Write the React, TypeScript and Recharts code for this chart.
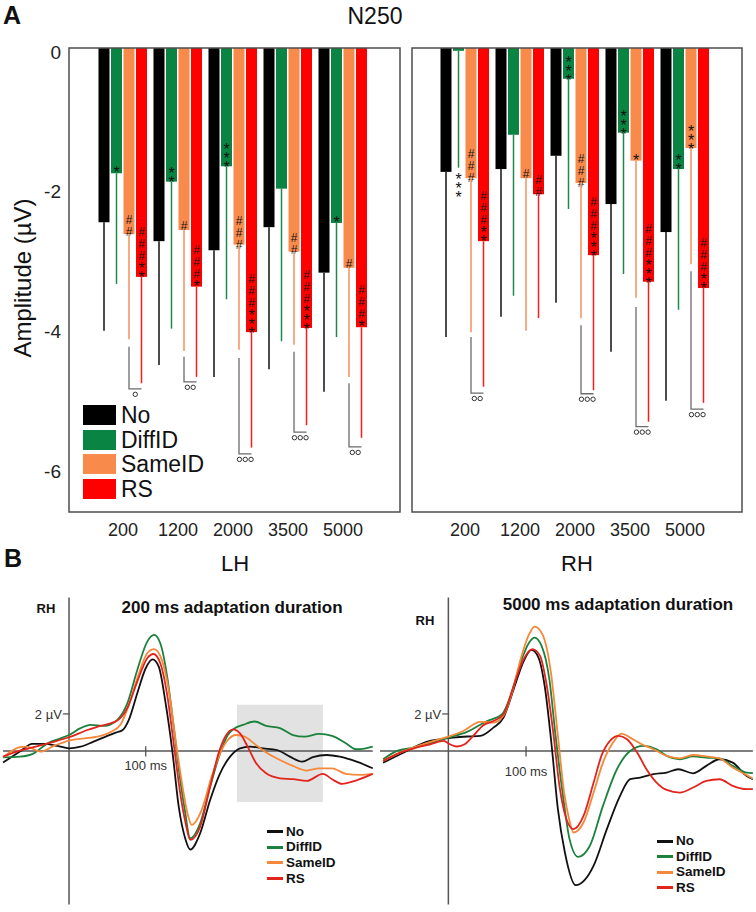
import React from "react";
import {
  BarChart,
  Bar,
  XAxis,
  YAxis,
  ErrorBar,
  Legend,
  LineChart,
  Line,
  ReferenceLine,
  ReferenceArea,
} from "recharts";

const FONT = '"Liberation Sans", Arial, Helvetica, sans-serif';

const durations = ["200", "1200", "2000", "3500", "5000"];
const conditions = ["No", "DiffID", "SameID", "RS"];

const barColors: Record<string, string> = {
  No: "#000000",
  DiffID: "#0a8443",
  SameID: "#f88a4c",
  RS: "#ff0000",
};
const errColors: Record<string, string> = {
  No: "#111111",
  DiffID: "#1b8a4b",
  SameID: "#f4915c",
  RS: "#ff1a1a",
};
const lineColors: Record<string, string> = {
  No: "#111111",
  DiffID: "#1a823d",
  SameID: "#f5883a",
  RS: "#e3241d",
};

// N250 mean amplitude (µV), left hemisphere
const lhNo = [-2.49, -2.76, -2.89, -2.56, -3.21];
const lhDiff = [-1.79, -1.91, -1.69, -2.01, -2.5];
const lhSame = [-2.66, -2.6, -2.81, -2.91, -3.14];
const lhRs = [-3.27, -3.41, -4.06, -4.0, -3.99];
// one-sided error (drawn downwards)
const lhNoErr = [1.55, 1.77, 1.81, 2.03, 1.7];
const lhDiffErr = [1.58, 2.1, 1.9, 2.18, 1.63];
const lhSameErr = [1.5, 1.73, 1.5, 1.33, 1.56];
const lhRsErr = [1.52, 1.29, 1.65, 1.39, 1.58];

// right hemisphere
const rhNo = [-1.77, -1.73, -1.54, -2.23, -2.63];
const rhDiff = [-0.04, -1.24, -0.44, -1.21, -1.73];
const rhSame = [-1.86, -1.86, -1.93, -1.61, -1.43];
const rhRs = [-2.76, -2.09, -2.96, -3.34, -3.43];
const rhNoErr = [2.36, 2.11, 2.1, 2.11, 2.41];
const rhDiffErr = [1.67, 2.3, 1.86, 2.02, 2.01];
const rhSameErr = [2.2, 2.18, 1.93, 1.96, 1.66];
const rhRsErr = [2.08, 1.77, 1.93, 2.0, 1.64];

// significance marks inside the bars (a space separates groups)
const lhDiffMarks = ["*", "**", "***", "", "*"];
const lhSameMarks = ["##", "#", "###", "##", "#"];
const lhRsMarks = ["### **", "### *", "### ***", "### ***", "### *"];
const rhDiffMarks = ["***", "", "***", "***", "**"];
const rhSameMarks = ["###", "#", "###", "*", "***"];
const rhRsMarks = ["### **", "##", "### ***", "### ***", "### **"];

// SameID vs RS brackets
const lhBracketTop = [-4.27, -4.41, -4.43, -4.34, -4.79];
const lhBracketEnd = [-4.87, -4.77, -5.8, -5.49, -5.7];
const lhBracketSig = [1, 2, 3, 3, 2];
const rhBracketTop = [-4.13, null, -3.96, -3.7, -3.19];
const rhBracketEnd = [-4.93, null, -4.94, -5.41, -5.16];
const rhBracketSig = [2, 0, 3, 3, 3];

// ERP waveforms, [ms, µV]
const erp200No = [
  [-86, -0.63], [-64, -0.03], [-48, 0.38], [-33, 0.38], [-15, 0.27], [0, 0.14],
  [15, 0.23], [32, 0.5], [50, 0.81], [61, 0.99], [70, 1.13], [78, 1.68], [89, 3.12],
  [100, 4.47], [109, 4.95], [117, 4.56], [126, 2.57], [135, -0.1], [143, -3.0],
  [152, -4.8], [158, -5.33], [171, -4.45], [184, -2.65], [197, -1.21], [210, -0.31],
  [223, 0.14], [236, 0.23], [253, 0.14], [271, 0.05], [288, -0.31], [304, -0.58],
  [318, -0.34], [336, -0.22], [353, -0.31], [375, -0.58], [396, -0.94],
];
const erp200Diff = [
  [-86, -0.35], [-64, -0.31], [-46, -0.13], [-28, 0.41], [-11, 0.68], [0, 0.86],
  [15, 1.23], [28, 1.41], [46, 1.35], [63, 1.68], [76, 2.57], [89, 4.38], [102, 5.91],
  [111, 6.27], [119, 5.82], [128, 4.02], [137, 1.14], [145, -1.57], [151, -3.2],
  [158, -4.72], [171, -3.91], [184, -1.93], [197, -0.13], [207, 0.86], [216, 1.23],
  [227, 1.41], [242, 1.59], [257, 1.35], [275, 1.23], [292, 0.86], [307, 0.77],
  [326, 0.92], [343, 0.81], [361, 0.41], [374, 0.09], [387, 0.14], [396, 0.23],
];
const erp200Same = [
  [-86, -0.35], [-64, 0.2], [-55, 0.23], [-37, -0.04], [-20, 0.27], [0, 0.56],
  [20, 0.68], [37, 0.77], [55, 1.04], [67, 1.41], [78, 2.49], [89, 3.93], [102, 5.28],
  [111, 5.5], [121, 4.92], [130, 3.3], [139, 0.59], [148, -1.93], [154, -3.3],
  [160, -4.0], [173, -3.19], [186, -1.39], [197, -0.13], [207, 0.59], [218, 0.86],
  [229, 0.77], [242, 0.38], [257, -0.09], [275, -0.49], [292, -0.81], [310, -1.06],
  [326, -0.94], [343, -0.94], [361, -1.24], [379, -1.3], [396, -1.24],
];
const erp200Rs = [
  [-86, -0.31], [-64, 0.02], [-46, 0.2], [-24, 0.45], [0, 0.74], [24, 1.13],
  [41, 1.35], [63, 1.64], [76, 2.31], [89, 3.75], [102, 5.01], [110, 5.24],
  [119, 4.74], [128, 3.03], [137, 0.23], [145, -2.29], [152, -3.9], [158, -4.81],
  [171, -4.09], [184, -1.93], [195, -0.13], [205, 0.86], [214, 1.17], [223, 0.95],
  [234, 0.14], [244, -0.67], [257, -1.21], [275, -1.48], [292, -1.53], [310, -1.62],
  [331, -1.24], [343, -1.53], [356, -1.78], [374, -1.6], [396, -1.24],
];

const erp5000No = [
  [-84, -0.63], [-62, -0.18], [-45, 0.18], [-28, 0.49], [-11, 0.63], [6, 0.72],
  [24, 0.78], [41, 0.81], [58, 1.26], [71, 1.8], [84, 3.33], [97, 4.86], [107, 5.46],
  [116, 5.05], [124, 3.51], [133, 0.27], [141, -3.15], [150, -5.49], [164, -7.26],
  [175, -7.0], [187, -6.2], [204, -4.23], [221, -2.43], [234, -1.53], [247, -1.44],
  [264, -1.26], [281, -1.17], [296, -0.99], [315, -1.21], [332, -0.81], [349, -0.45],
  [366, -0.63], [384, -1.35], [392, -1.53],
];
const erp5000Diff = [
  [-84, -0.45], [-66, 0], [-45, 0.18], [-23, 0.42], [0, 0.72], [24, 1.03], [50, 1.62],
  [69, 1.98], [80, 2.97], [93, 4.78], [104, 5.86], [111, 6.13], [120, 5.68],
  [130, 3.88], [138, 0.81], [147, -2.25], [156, -4.77], [167, -5.73], [182, -5.14],
  [199, -2.97], [217, -0.99], [234, 0], [251, 0.27], [268, 0.09], [281, -0.27],
  [298, -0.45], [315, -0.3], [332, -0.36], [349, -0.4], [366, -0.81], [384, -1.17],
  [392, -1.2],
];
const erp5000Same = [
  [-84, -0.54], [-62, -0.09], [-45, 0.18], [-23, 0.49], [0, 0.77], [19, 1.08],
  [41, 1.57], [58, 1.53], [71, 1.91], [82, 3.16], [93, 4.96], [104, 6.31], [111, 6.72],
  [121, 6.31], [132, 4.24], [141, 0.81], [149, -2.25], [155, -3.6], [161, -4.41],
  [174, -3.87], [187, -2.25], [199, -0.63], [212, 0.45], [223, 0.94], [234, 0.72],
  [247, 0.4], [264, 0.09], [281, -0.27], [298, -0.4], [315, -0.22], [332, -0.3],
  [349, -0.4], [366, -0.9], [384, -1.31], [392, -1.5],
];
const erp5000Rs = [
  [-84, -0.54], [-62, -0.09], [-45, 0.13], [-23, 0.36], [-6, 0.54], [2, 0.36],
  [11, 0.24], [21, 0.36], [32, 0.81], [45, 1.39], [58, 1.62], [71, 1.98], [84, 3.51],
  [97, 4.96], [108, 5.5], [118, 5.14], [126, 3.7], [135, 1.0], [143, -1.89],
  [152, -3.69], [161, -4.23], [174, -3.51], [187, -1.71], [197, -0.27], [208, 0.54],
  [219, 0.81], [230, 0.63], [243, -0.09], [255, -0.99], [268, -1.71], [281, -2.11],
  [298, -2.25], [315, -1.98], [332, -1.62], [349, -1.53], [366, -1.89], [384, -2.07],
  [392, -2.07],
];

const Y_MIN = -6.63;
const Y_MAX = 0;
const BAR_SIZE = 11;
const BAR_GAP = 1.5;

function buildRows(vals: number[][], errs: number[][]) {
  return durations.map((d, i) => {
    const row: any = { dur: d };
    conditions.forEach((c, k) => {
      row[c] = vals[k][i];
      row[c + "Err"] = [errs[k][i], 0];
    });
    return row;
  });
}

const lhRows = buildRows([lhNo, lhDiff, lhSame, lhRs], [lhNoErr, lhDiffErr, lhSameErr, lhRsErr]);
const rhRows = buildRows([rhNo, rhDiff, rhSame, rhRs], [rhNoErr, rhDiffErr, rhSameErr, rhRsErr]);

type Bracket = { top: (number | null)[]; end: (number | null)[]; sig: number[] };

// vertical pitch and font size of one stacked mark
const groupPitch = (g: string) => (g[0] === "#" ? 10 : 8);
const groupFont = (g: string) => (g[0] === "#" ? 12 : 16);
const GROUP_GAP = 5;

function barShape(key: string, marks: string[] | null, errs: number[], bracket?: Bracket) {
  return (props: any) => {
    const { x, y, width, height, fill, payload } = props;
    const index = props.index ?? durations.indexOf(payload.dur);
    const top = Math.min(y, y + height);
    const h = Math.abs(height);
    const bg = props.background && props.background.height ? props.background : { y: 48, height: 464 };
    const yOf = (v: number) => bg.y + ((Y_MAX - v) / (Y_MAX - Y_MIN)) * bg.height;
    const cx = x + width / 2;
    const value = payload[key];
    const items: React.ReactNode[] = [];

    const m = marks ? marks[index] || "" : "";
    if (m) {
      const groups = m.split(" ").filter(Boolean);
      const total =
        groups.reduce((s, g) => s + g.length * groupPitch(g), 0) + (groups.length - 1) * GROUP_GAP;
      let cur = top + h - 1;
      if (total > h - 2) cur = yOf(value - errs[index]) + 3 + total;
      for (let i = groups.length - 1; i >= 0; i--) {
        const g = groups[i];
        const p = groupPitch(g);
        const f = groupFont(g);
        const gTop = cur - g.length * p;
        items.push(
          <text
            key={"g" + i}
            x={cx}
            y={gTop}
            fontSize={f}
            fontFamily={FONT}
            fill="#111"
            letterSpacing={p - f}
            style={{ writingMode: "vertical-rl", textOrientation: "upright" } as any}
          >
            {g}
          </text>
        );
        cur = gTop - GROUP_GAP;
      }
    }

    if (bracket && bracket.top[index] != null && bracket.end[index] != null) {
      const y1 = yOf(bracket.top[index] as number);
      const y2 = yOf(bracket.end[index] as number);
      const x2 = cx + width + BAR_GAP;
      items.push(
        <path
          key="br"
          d={`M${cx},${y1} V${y2} H${x2}`}
          stroke="#6b6b6b"
          strokeWidth={1.3}
          fill="none"
        />
      );
      const n = bracket.sig[index];
      const mid = (cx + x2) / 2;
      for (let k = 0; k < n; k++) {
        items.push(
          <circle
            key={"c" + k}
            cx={mid + (k - (n - 1) / 2) * 5.8}
            cy={y2 + 5.5}
            r={2.2}
            stroke="#333"
            strokeWidth={1}
            fill="none"
          />
        );
      }
    }

    return (
      <g>
        <rect x={x} y={top} width={width} height={h} fill={fill} />
        {items}
      </g>
    );
  };
}

const yTick = (p: any) => (
  <text x={p.x} y={p.y + 4} textAnchor="end" dominantBaseline="central" fontSize={19} fontFamily={FONT} fill="#222">
    {p.payload.value}
  </text>
);

const xTick = (p: any) => (
  <text x={p.x} y={p.y + 10} textAnchor="middle" dominantBaseline="central" fontSize={18} fontFamily={FONT} fill="#222">
    {p.payload.value}
  </text>
);

const BarLegend = () => (
  <div style={{ fontFamily: FONT }}>
    {conditions.map((c) => (
      <div key={c} style={{ display: "flex", alignItems: "center", height: 24.7 }}>
        <div style={{ width: 33, height: 20, background: barColors[c] }} />
        <div style={{ marginLeft: 5, fontSize: 23, height: 24, lineHeight: "24px", color: "#111" }}>{c}</div>
      </div>
    ))}
  </div>
);

const LEG_ROW = 15.6;

const LineLegend = () => (
  <div style={{ fontFamily: FONT }}>
    {conditions.map((c) => (
      <div key={c} style={{ display: "flex", alignItems: "center", height: LEG_ROW }}>
        <div style={{ width: 16, height: 3, background: lineColors[c] }} />
        <div
          style={{
            marginLeft: 3,
            fontSize: 13.5,
            fontWeight: 700,
            height: LEG_ROW,
            lineHeight: LEG_ROW + "px",
            color: "#111",
          }}
        >
          {c}
        </div>
      </div>
    ))}
  </div>
);

function N250Chart({ rows, showY, width, marks, errs, bracket, legend }: any) {
  return (
    <BarChart
      width={width}
      height={545}
      data={rows}
      margin={{ top: 48, right: 0, bottom: 3, left: 0 }}
      barGap={BAR_GAP}
    >
      <XAxis
        dataKey="dur"
        padding={showY ? { left: 26.5, right: 29.5 } : { left: 25.5, right: 29.5 }}
        tickLine={false}
        axisLine={false}
        height={30}
        interval={0}
        tick={xTick}
      />
      <YAxis
        type="number"
        domain={[Y_MIN, Y_MAX]}
        allowDataOverflow
        ticks={[0, -2, -4, -6]}
        width={69}
        hide={!showY}
        tickLine={false}
        axisLine={false}
        tick={yTick}
      />
      {conditions.map((c, k) => (
        <Bar
          key={c}
          dataKey={c}
          name={c}
          fill={barColors[c]}
          barSize={BAR_SIZE}
          isAnimationActive={false}
          shape={barShape(c, marks[k], errs[k], k === 2 ? bracket : undefined)}
        >
          <ErrorBar dataKey={c + "Err"} width={0} stroke={errColors[c]} strokeWidth={1.5} direction="y" />
        </Bar>
      ))}
      {legend && (
        <Legend
          layout="vertical"
          align="center"
          verticalAlign="middle"
          content={BarLegend}
          wrapperStyle={{ left: 83, top: 402.6, width: "auto" }}
        />
      )}
    </BarChart>
  );
}

const toPts = (arr: number[][]) => arr.map(([t, v]) => ({ t, v }));

function ErpChart({ width, xDomain, series, axisFrom, axisTo, shade, legendPos, labelOffset }: any) {
  const refLabel = { fill: "#333", fontSize: 13, fontFamily: FONT };
  return (
    <LineChart width={width} height={320} margin={{ top: 0, right: 0, bottom: 0, left: 0 }}>
      <XAxis type="number" dataKey="t" domain={xDomain} allowDataOverflow hide />
      <YAxis type="number" domain={[-8.6, 8.7]} allowDataOverflow hide />
      {shade && (
        <ReferenceArea x1={shade[0]} x2={shade[1]} y1={shade[2]} y2={shade[3]} fill="#e2e2e2" fillOpacity={1} stroke="none" />
      )}
      <ReferenceLine segment={[{ x: axisFrom, y: 0 }, { x: axisTo, y: 0 }]} stroke="#555" strokeWidth={1.5} />
      <ReferenceLine segment={[{ x: 0, y: 8.3 }, { x: 0, y: -8.3 }]} stroke="#555" strokeWidth={1.5} />
      <ReferenceLine
        segment={[{ x: 100, y: 0.25 }, { x: 100, y: -0.3 }]}
        stroke="#555"
        strokeWidth={1.3}
        label={{ value: "100 ms", position: "bottom", offset: labelOffset, ...refLabel }}
      />
      <ReferenceLine
        segment={[{ x: -8, y: 2 }, { x: 1, y: 2 }]}
        stroke="#555"
        strokeWidth={1.3}
        label={{ value: "2 µV", position: "left", offset: 1, ...refLabel }}
      />
      {series.map((s: any) => (
        <Line
          key={s.name}
          data={toPts(s.pts)}
          dataKey="v"
          name={s.name}
          type="monotone"
          stroke={lineColors[s.name]}
          strokeWidth={1.8}
          dot={false}
          isAnimationActive={false}
        />
      ))}
      <Legend
        layout="vertical"
        align="center"
        verticalAlign="middle"
        content={LineLegend}
        wrapperStyle={{ left: legendPos[0], top: legendPos[1], width: "auto" }}
      />
    </LineChart>
  );
}

export default function App() {
  const T = { fontFamily: FONT, fill: "#111" };
  return (
    <div style={{ position: "absolute", left: 0, top: 0, width: 756, height: 912, background: "#fff", overflow: "hidden" }}>
      <div style={{ position: "absolute", left: 0, top: 0 }}>
        <N250Chart
          rows={lhRows}
          showY
          width={400}
          marks={[null, lhDiffMarks, lhSameMarks, lhRsMarks]}
          errs={[lhNoErr, lhDiffErr, lhSameErr, lhRsErr]}
          bracket={{ top: lhBracketTop, end: lhBracketEnd, sig: lhBracketSig }}
          legend
        />
      </div>
      <div style={{ position: "absolute", left: 412, top: 0 }}>
        <N250Chart
          rows={rhRows}
          showY={false}
          width={330}
          marks={[null, rhDiffMarks, rhSameMarks, rhRsMarks]}
          errs={[rhNoErr, rhDiffErr, rhSameErr, rhRsErr]}
          bracket={{ top: rhBracketTop, end: rhBracketEnd, sig: rhBracketSig }}
        />
      </div>
      <div style={{ position: "absolute", left: 0, top: 590 }}>
        <ErpChart
          width={380}
          xDomain={[-90, 405.5]}
          axisFrom={-86}
          axisTo={396}
          shade={[219, 331, -2.76, 2.49]}
          legendPos={[267, 233.8]}
          labelOffset={4}
          series={[
            { name: "No", pts: erp200No },
            { name: "DiffID", pts: erp200Diff },
            { name: "SameID", pts: erp200Same },
            { name: "RS", pts: erp200Rs },
          ]}
        />
      </div>
      <div style={{ position: "absolute", left: 380, top: 590 }}>
        <ErpChart
          width={376}
          xDomain={[-88, 396]}
          axisFrom={-88}
          axisTo={392}
          legendPos={[277, 243.3]}
          labelOffset={10}
          series={[
            { name: "No", pts: erp5000No },
            { name: "DiffID", pts: erp5000Diff },
            { name: "SameID", pts: erp5000Same },
            { name: "RS", pts: erp5000Rs },
          ]}
        />
      </div>
      <svg width={756} height={912} style={{ position: "absolute", left: 0, top: 0, pointerEvents: "none" }}>
        <rect x={69} y={48} width={331} height={464} fill="none" stroke="#4d4d4d" strokeWidth={1.5} />
        <rect x={412} y={48} width={330} height={464} fill="none" stroke="#4d4d4d" strokeWidth={1.5} />
        <text x={3} y={24} fontSize={25} fontWeight={700} {...T}>A</text>
        <text x={375} y={24} fontSize={23} textAnchor="middle" {...T}>N250</text>
        <text
          x={22}
          y={278}
          fontSize={24}
          textAnchor="middle"
          dominantBaseline="central"
          transform="rotate(-90 22 278)"
          {...T}
        >
          Amplitude (µV)
        </text>
        <text x={235} y={571} fontSize={22} textAnchor="middle" {...T}>LH</text>
        <text x={577} y={571} fontSize={22} textAnchor="middle" {...T}>RH</text>
        <text x={4} y={567} fontSize={25} fontWeight={700} {...T}>B</text>
        <text x={232} y={613} fontSize={17} fontWeight={700} textAnchor="middle" {...T}>
          200 ms adaptation duration
        </text>
        <text x={46} y={613} fontSize={13} fontWeight={700} textAnchor="middle" {...T}>RH</text>
        <text x={618} y={610} fontSize={17} fontWeight={700} textAnchor="middle" {...T}>
          5000 ms adaptation duration
        </text>
        <text x={425} y={625} fontSize={13} fontWeight={700} textAnchor="middle" {...T}>RH</text>
      </svg>
    </div>
  );
}
